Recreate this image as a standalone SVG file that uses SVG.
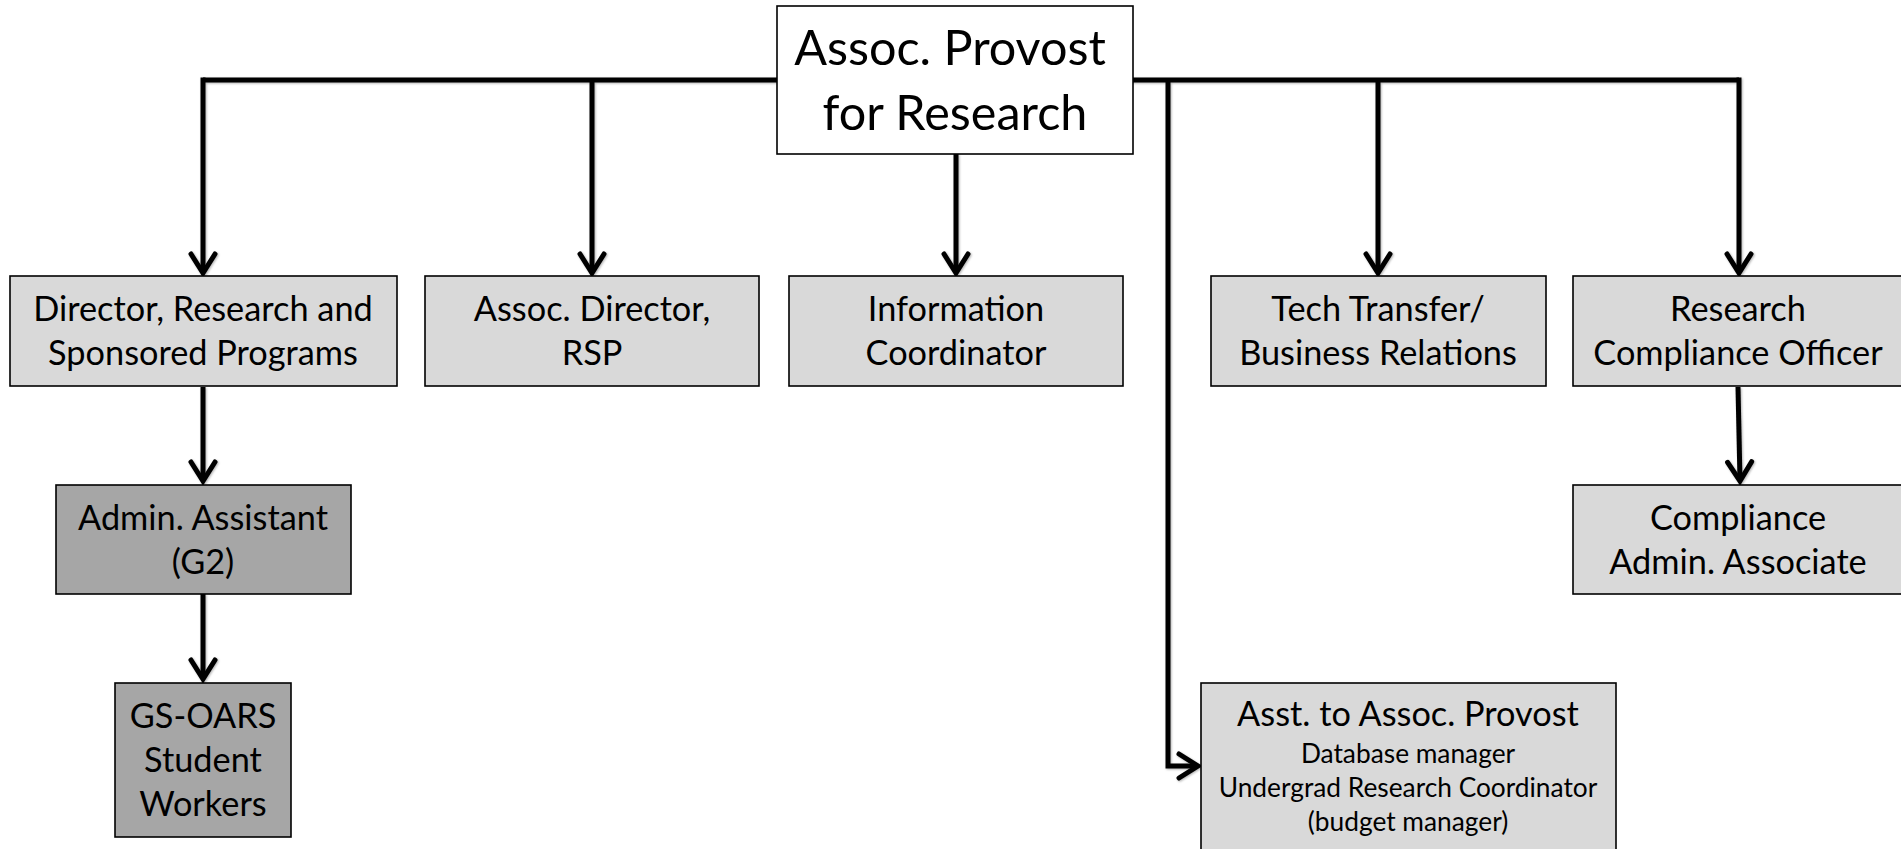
<svg xmlns="http://www.w3.org/2000/svg" width="1901" height="849" viewBox="0 0 1901 849">
  <style>
    .box { stroke: #000; stroke-width: 1.6; }
    .light { fill: #d9d9d9; }
    .dark { fill: #a6a6a6; }
    .top { fill: #ffffff; }
    text { font-family: Lato, "Open Sans", sans-serif; fill: #000; text-anchor: middle; }
    .t1 { font-size: 48.5px; }
    .t2 { font-size: 34.3px; }
    .t3 { font-size: 26.3px; }
    .wire { fill: none; stroke: #000; stroke-width: 5; stroke-linejoin: miter; }
    .arrow { marker-end: url(#chev); }
  </style>
  <defs>
    <marker id="chev" markerUnits="userSpaceOnUse" viewBox="-25 -15 30 30" refX="0" refY="0" markerWidth="30" markerHeight="30" orient="auto" overflow="visible">
      <path d="M-19,-12 L0,0 L-19,12" fill="none" stroke="#000" stroke-width="5" stroke-linejoin="miter" stroke-linecap="round"/>
    </marker>
    <filter id="soft" x="-10%" y="-10%" width="120%" height="120%">
      <feDropShadow dx="1" dy="1" stdDeviation="1.2" flood-color="#000" flood-opacity="0.3"/>
    </filter>
  </defs>

  <!-- reporting lines -->
  <g id="connectors" filter="url(#soft)">
    <path class="wire" d="M203,80 H1739"/>
    <path class="wire arrow" d="M203,77.5 V273"/>
    <path class="wire arrow" d="M592,80 V273"/>
    <path class="wire arrow" d="M956,154 V273"/>
    <path class="wire arrow" d="M1378,80 V273"/>
    <path class="wire arrow" d="M1739,77.5 V273"/>
    <path class="wire arrow" d="M1168,80 V766 H1198"/>
    <path class="wire arrow" d="M203,387 V481"/>
    <path class="wire arrow" d="M203,594 V679"/>
    <path class="wire arrow" d="M1738,387 L1740,481"/>
  </g>

  <g id="assoc-provost">
    <rect class="box top" x="777" y="6" width="356" height="148"/>
    <text class="t1" x="950" y="65">Assoc. Provost</text>
    <text class="t1" x="955" y="130">for Research</text>
  </g>

  <g id="director-rsp">
    <rect class="box light" x="10" y="276" width="387" height="110"/>
    <text class="t2" x="203" y="321">Director, Research and</text>
    <text class="t2" x="203" y="365">Sponsored Programs</text>
  </g>

  <g id="assoc-director-rsp">
    <rect class="box light" x="425" y="276" width="334" height="110"/>
    <text class="t2" x="592" y="321">Assoc. Director,</text>
    <text class="t2" x="592" y="365">RSP</text>
  </g>

  <g id="information-coordinator">
    <rect class="box light" x="789" y="276" width="334" height="110"/>
    <text class="t2" x="956" y="321">Information</text>
    <text class="t2" x="956" y="365">Coordinator</text>
  </g>

  <g id="tech-transfer">
    <rect class="box light" x="1211" y="276" width="335" height="110"/>
    <text class="t2" x="1378" y="321">Tech Transfer/</text>
    <text class="t2" x="1378" y="365">Business Relations</text>
  </g>

  <g id="compliance-officer">
    <rect class="box light" x="1573" y="276" width="330" height="110"/>
    <text class="t2" x="1738" y="321">Research</text>
    <text class="t2" x="1738" y="365">Compliance Officer</text>
  </g>

  <g id="admin-assistant">
    <rect class="box dark" x="56" y="485" width="295" height="109"/>
    <text class="t2" x="203" y="530">Admin. Assistant</text>
    <text class="t2" x="203" y="574">(G2)</text>
  </g>

  <g id="student-workers">
    <rect class="box dark" x="115" y="683" width="176" height="154"/>
    <text class="t2" x="203" y="728">GS-OARS</text>
    <text class="t2" x="203" y="772">Student</text>
    <text class="t2" x="203" y="816">Workers</text>
  </g>

  <g id="compliance-admin">
    <rect class="box light" x="1573" y="485" width="330" height="109"/>
    <text class="t2" x="1738" y="530">Compliance</text>
    <text class="t2" x="1738" y="574">Admin. Associate</text>
  </g>

  <g id="asst-to-provost">
    <rect class="box light" x="1201" y="683" width="415" height="168"/>
    <text class="t2" x="1408" y="726">Asst. to Assoc. Provost</text>
    <text class="t3" x="1408" y="763">Database manager</text>
    <text class="t3" x="1408" y="797">Undergrad Research Coordinator</text>
    <text class="t3" x="1408" y="831">(budget manager)</text>
  </g>
</svg>
